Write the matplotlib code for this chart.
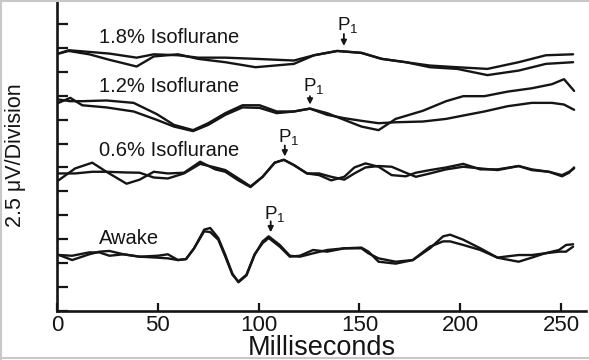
import matplotlib
matplotlib.use("Agg")
import matplotlib.pyplot as plt
from matplotlib.lines import Line2D

plt.rcParams['font.family'] = ['Liberation Sans', 'DejaVu Sans']
plt.rcParams['mathtext.default'] = 'regular'

# time points (ms) and traces, y in divisions (2.5 uV each)
awake_ms = [1, 7.5, 16, 21, 26, 33, 41, 50, 55, 60, 64, 68, 73, 76, 80, 83.5, 87, 90, 94, 98,
            102, 105, 110.5, 115.5, 120.5, 127, 134, 142.5, 151, 154.5, 159.5, 168, 176.5, 185,
            191.5, 195, 201.5, 210, 218.5, 222, 229, 235.5, 242, 249, 252.5, 256]
awake_a = [2.34, 2.31, 2.45, 2.45, 2.31, 2.37, 2.27, 2.31, 2.37, 2.13, 2.17, 2.62, 3.40, 3.47,
           3.05, 2.34, 1.56, 1.20, 1.49, 2.34, 2.91, 3.12, 2.76, 2.31, 2.27, 2.41, 2.55, 2.62,
           2.65, 2.48, 2.06, 1.98, 2.13, 2.62, 3.12, 3.19, 2.98, 2.62, 2.23, 2.27, 2.34, 2.34,
           2.41, 2.55, 2.76, 2.79]
awake_b = [2.34, 2.13, 2.37, 2.48, 2.51, 2.37, 2.27, 2.23, 2.20, 2.13, 2.17, 2.62, 3.33, 3.30,
           2.98, 2.27, 1.52, 1.23, 1.52, 2.37, 2.84, 3.05, 2.69, 2.27, 2.31, 2.55, 2.48, 2.62,
           2.62, 2.41, 2.20, 2.06, 2.13, 2.69, 2.91, 2.91, 2.76, 2.55, 2.23, 2.17, 2.06, 2.23,
           2.41, 2.48, 2.48, 2.69]

iso06_ms = [0.7, 9, 17.5, 24.5, 34.5, 41, 48, 55, 63, 71, 78.5, 83.5, 90, 96, 102, 108, 112.5,
            117.5, 124, 130, 136, 142.5, 147.5, 153, 159.5, 166, 173, 178, 185, 193, 201.5,
            210, 218.5, 229, 235.5, 244, 250.5, 254, 256.5]
iso06_a = [5.46, 5.96, 6.20, 5.82, 5.32, 5.49, 5.82, 5.75, 5.78, 6.24, 5.92, 5.82, 5.46, 5.18,
           5.61, 6.20, 6.32, 6.10, 5.75, 5.68, 5.46, 5.61, 6.00, 6.17, 6.03, 5.68, 5.63, 5.78,
           5.89, 6.00, 6.15, 5.92, 5.92, 6.06, 5.92, 5.82, 5.63, 5.78, 6.00]
iso06_b = [5.75, 5.75, 5.82, 5.82, 5.79, 5.78, 5.58, 5.54, 5.75, 6.15, 6.00, 5.89, 5.54, 5.21,
           5.61, 6.20, 6.32, 6.10, 5.75, 5.75, 5.61, 5.49, 5.75, 6.00, 6.06, 6.03, 5.78, 5.61,
           5.75, 5.92, 6.03, 5.96, 5.89, 6.06, 5.89, 5.82, 5.68, 5.82, 5.96]

iso12_ms = [0.7, 6.6, 12.5, 24.5, 38, 49.5, 58, 67.5, 75, 83.5, 92, 100.5, 109, 117.5, 125.5,
            134, 142.5, 151, 159.5, 168, 181.5, 193, 201.5, 212, 223.5, 235.5, 245.5, 251.5,
            256.5]
iso12_a = [8.70, 8.91, 8.60, 8.51, 8.34, 7.99, 7.71, 7.52, 7.78, 8.20, 8.51, 8.49, 8.27, 8.34,
           8.46, 8.27, 7.99, 7.71, 7.56, 8.03, 8.37, 8.77, 8.98, 8.98, 9.17, 9.31, 9.48, 9.69,
           9.20]
iso12_b = [8.84, 8.77, 8.77, 8.80, 8.70, 8.23, 7.78, 7.56, 7.85, 8.27, 8.60, 8.60, 8.34, 8.34,
           8.46, 8.20, 8.06, 7.95, 7.85, 7.89, 7.92, 8.03, 8.17, 8.34, 8.56, 8.70, 8.70, 8.63,
           8.41]

iso18_ms = [0.7, 5.8, 16, 26, 39.5, 48, 60, 70, 83.5, 98.5, 117.5, 127.5, 139, 151, 161, 173,
            185, 198.5, 213.5, 229, 242.5, 256]
iso18_a = [10.76, 10.87, 10.73, 10.50, 10.22, 10.64, 10.73, 10.54, 10.40, 10.19, 10.33, 10.69,
           10.87, 10.79, 10.54, 10.40, 10.19, 10.12, 9.86, 10.05, 10.33, 10.40]
iso18_b = [10.76, 10.90, 10.83, 10.76, 10.59, 10.73, 10.69, 10.59, 10.59, 10.54, 10.47, 10.69,
           10.87, 10.79, 10.54, 10.40, 10.26, 10.19, 10.12, 10.40, 10.69, 10.73]

labels = ["1.8% Isoflurane", "1.2% Isoflurane", "0.6% Isoflurane", "Awake"]
label_y = [11.42, 9.38, 6.72, 3.02]
p1_ms = [142.3, 125.5, 113, 106]
p1_text_y = [11.96, 9.42, 7.29, 4.04]
p1_arrow = [(11.58, 11.08), (8.98, 8.63), (6.92, 6.46), (3.75, 3.29)]

ink = "#151515"

fig = plt.figure(figsize=(5.89, 3.6), dpi=100)
ax = fig.add_axes([57 / 589, 1 - 311 / 360, 529 / 589, 311 / 360])

for ms, a, b in [(awake_ms, awake_a, awake_b), (iso06_ms, iso06_a, iso06_b),
                 (iso12_ms, iso12_a, iso12_b), (iso18_ms, iso18_a, iso18_b)]:
    ax.plot(ms, a, color=ink, lw=1.7, solid_capstyle="round", solid_joinstyle="round")
    ax.plot(ms, b, color=ink, lw=1.7, solid_capstyle="round", solid_joinstyle="round")

for lab, y in zip(labels, label_y):
    ax.text(21, y, lab, fontsize=14.5, color=ink, va="center", ha="left")

for x, ty, (y0, y1) in zip(p1_ms, p1_text_y, p1_arrow):
    ax.text(x + 2, ty, r"P$_1$", fontsize=13.5, color=ink, va="center", ha="center")
    ax.annotate("", xy=(x, y1), xytext=(x, y0),
                arrowprops=dict(arrowstyle="-|>", color=ink, lw=1.3, mutation_scale=8,
                                shrinkA=0, shrinkB=0))

ax.set_xlim(0, 262.4)
ax.set_ylim(0, 13)
ax.set_xticks([0, 50, 100, 150, 200, 250])
ax.set_yticks(range(0, 13))
ax.set_yticklabels([])
ax.tick_params(axis="x", direction="in", length=6, width=1.6, color=ink, labelsize=16,
               labelcolor=ink, pad=3)
ax.tick_params(axis="y", direction="in", length=8, width=1.6, color=ink)
for side in ["top", "right"]:
    ax.spines[side].set_visible(False)
for side in ["left", "bottom"]:
    ax.spines[side].set_linewidth(1.9)
    ax.spines[side].set_color(ink)

ax.set_xlabel("Milliseconds", fontsize=19.5, color=ink, labelpad=-1)
fig.text(16 / 589, 1 - 155 / 360, "2.5 \u03bcV/Division", rotation=90, fontsize=15.5,
         color=ink, ha="center", va="center")

# light frame of the scanned figure
for xs, ys in [([0.002, 0.002], [0, 1]), ([0, 1], [0.998, 0.998]), ([0, 1], [0.006, 0.006])]:
    fig.add_artist(Line2D(xs, ys, color="#c8c8c8", lw=1.5, transform=fig.transFigure))

fig.savefig("out.png", dpi=100)
